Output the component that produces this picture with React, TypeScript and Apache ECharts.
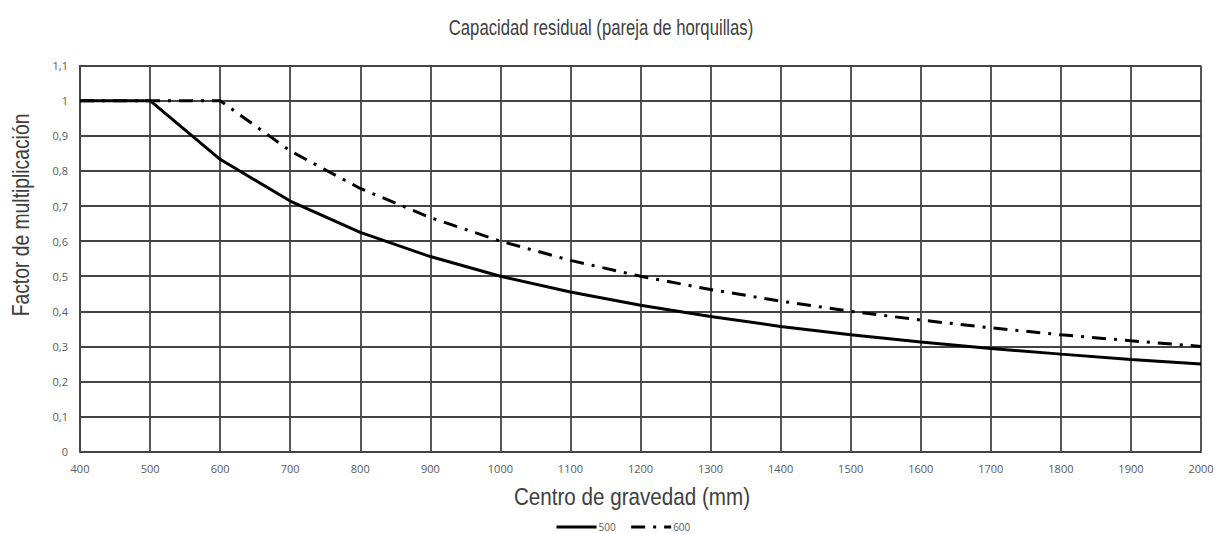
import React, { useEffect, useRef } from "react";
import * as echarts from "echarts";

const xValues = [400, 500, 600, 700, 800, 900, 1000, 1100, 1200, 1300, 1400, 1500, 1600, 1700, 1800, 1900, 2000];
const series500 = [1, 1, 0.833, 0.714, 0.625, 0.556, 0.5, 0.455, 0.417, 0.385, 0.357, 0.333, 0.3125, 0.294, 0.278, 0.263, 0.25];
const series600 = [1, 1, 1, 0.857, 0.75, 0.667, 0.6, 0.545, 0.5, 0.462, 0.429, 0.4, 0.375, 0.353, 0.333, 0.316, 0.3];
const seriesNames = ["500", "600"];
const titleText = "Capacidad residual (pareja de horquillas)";
const xTitle = "Centro de gravedad (mm)";
const yTitle = "Factor de multiplicación";

export default function App() {
  const ref = useRef<HTMLDivElement>(null);
  useEffect(() => {
    if (!ref.current) return;
    const chart = echarts.init(ref.current, null, { renderer: "svg" });
    const gridColor = "#444444";
    const labelFont = "'Open Sans', 'Noto Sans', sans-serif";
    const titleFont = "'Liberation Sans', Arial, sans-serif";
    const dash = [14, 8, 3, 8];
    chart.setOption({
      animation: false,
      backgroundColor: "#ffffff",
      graphic: [
        {
          type: "text",
          x: 601,
          y: 27,
          scaleX: 0.76,
          style: { text: titleText, fontFamily: titleFont, fontSize: 22, fill: "#404040", align: "center", verticalAlign: "middle" },
        },
        {
          type: "text",
          x: 632,
          y: 497,
          scaleX: 0.86,
          style: { text: xTitle, fontFamily: titleFont, fontSize: 24, fill: "#404040", align: "center", verticalAlign: "middle" },
        },
        {
          type: "text",
          x: 21,
          y: 215,
          rotation: Math.PI / 2,
          scaleX: 0.84,
          style: { text: yTitle, fontFamily: titleFont, fontSize: 23, fill: "#404040", align: "center", verticalAlign: "middle" },
        },
      ],
      grid: { left: 80, right: 21, top: 65.6, bottom: 82.3, containLabel: false },
      legend: {
        data: seriesNames,
        left: 555,
        top: 522,
        itemWidth: 40,
        itemHeight: 8,
        itemGap: 14,
        lineStyle: { width: 3 },
        itemStyle: { color: "transparent", borderColor: "transparent", borderWidth: 0, opacity: 0 },
        textStyle: { fontFamily: labelFont, fontSize: 10, color: "#595959", padding: [0, 0, 0, -3], lineHeight: 10 },
        padding: 0,
      },
      xAxis: {
        type: "value",
        min: 400,
        max: 2000,
        interval: 100,
        axisLine: { show: true, lineStyle: { color: gridColor, width: 1.8 } },
        axisTick: { show: false },
        axisLabel: { fontFamily: labelFont, fontSize: 11, color: "#595959", margin: 11, formatter: (v: number) => String(v) },
        splitLine: { show: true, lineStyle: { color: gridColor, width: 1.8 } },
      },
      yAxis: {
        type: "value",
        min: 0,
        max: 1.1,
        interval: 0.1,
        axisLine: { show: true, lineStyle: { color: gridColor, width: 1.8 } },
        axisTick: { show: false },
        axisLabel: {
          fontFamily: labelFont,
          fontSize: 11,
          color: "#595959",
          margin: 12,
          formatter: (v: number) => String(Math.round(v * 10) / 10).replace(".", ","),
        },
        splitLine: { show: true, lineStyle: { color: gridColor, width: 1.8 } },
      },
      series: [
        {
          name: seriesNames[0],
          type: "line",
          data: xValues.map((x, i) => [x, series500[i]]),
          showSymbol: false,
          symbol: "none",
          lineStyle: { color: "#000000", width: 3 },
          itemStyle: { color: "#000000" },
          z: 3,
        },
        {
          name: seriesNames[1],
          type: "line",
          data: xValues.map((x, i) => [x, series600[i]]),
          showSymbol: false,
          symbol: "none",
          lineStyle: { color: "#000000", width: 3, type: dash },
          itemStyle: { color: "#000000" },
          z: 4,
        },
      ],
    });
    return () => chart.dispose();
  }, []);
  return <div ref={ref} style={{ width: 1222, height: 534, position: "absolute", left: 0, top: 0 }} />;
}
